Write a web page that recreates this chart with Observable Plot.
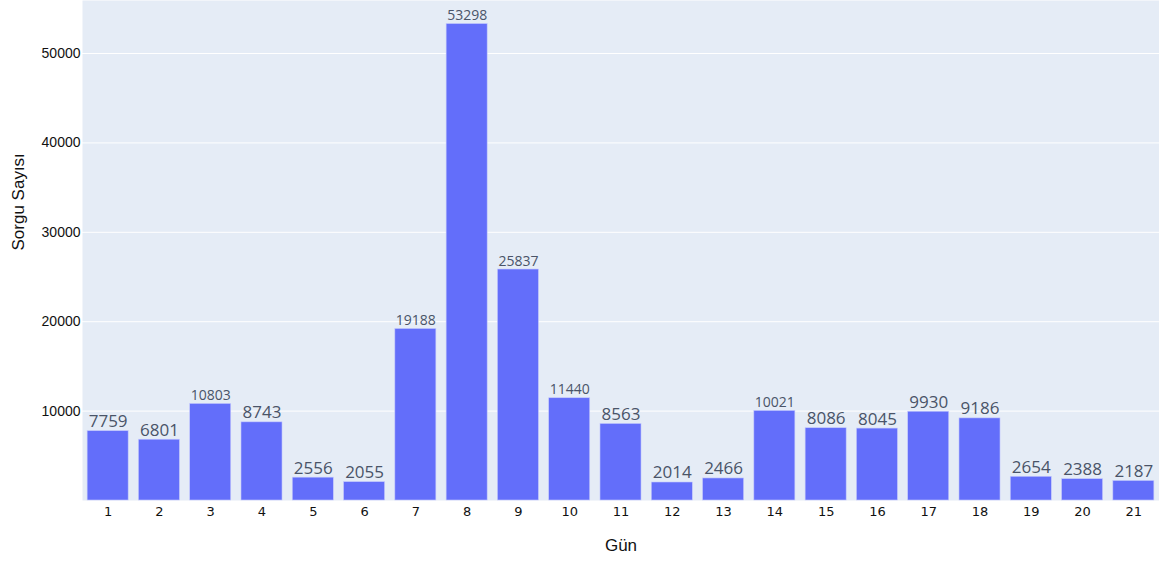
<!DOCTYPE html>
<html>
<head>
<meta charset="utf-8">
<script src="https://cdn.jsdelivr.net/npm/d3@7"></script>
<script src="https://cdn.jsdelivr.net/npm/@observablehq/plot@0.6"></script>
<style>
  body { margin: 0; background: #fff; }
  svg { display: block; }
</style>
</head>
<body>
<div id="chart"></div>
<script>
const days = ["1","2","3","4","5","6","7","8","9","10","11","12","13","14","15","16","17","18","19","20","21"];
const counts = [7759, 6801, 10803, 8743, 2556, 2055, 19188, 53298, 25837, 11440, 8563, 2014, 2466, 10021, 8086, 8045, 9930, 9186, 2654, 2388, 2187];
const yTicks = [10000, 20000, 30000, 40000, 50000];

const data = days.map((d, i) => ({day: d, count: counts[i]}));
const isLong = d => String(d.count).length >= 5;
const sans = "'Liberation Sans', Arial, sans-serif";
const dejavu = "'DejaVu Sans', Verdana, sans-serif";
const open = "'Open Sans', sans-serif";

const chart = Plot.plot({
  width: 1159,
  height: 562,
  marginLeft: 82,
  marginRight: 0,
  marginTop: 0,
  marginBottom: 62,
  style: {fontFamily: sans, fontSize: "13px", color: "#2a3f5f", background: "#fff"},
  x: {domain: days, paddingInner: 0.2, paddingOuter: 0.1, round: false, label: null},
  y: {domain: [0, 55930], label: null},
  marks: [
    Plot.frame({fill: "#E5ECF6", stroke: null}),
    Plot.gridY(yTicks, {stroke: "#fff", strokeOpacity: 1, strokeWidth: 1}),
    Plot.barY(data, {x: "day", y: "count", fill: "#636EFA", stroke: "#c5cafd", strokeWidth: 0.6}),
    Plot.text(data.filter(d => !isLong(d)), {x: "day", y: "count", text: d => String(d.count), lineAnchor: "bottom", dy: -4, fontSize: 17, fontFamily: open, fill: "#4a5468"}),
    Plot.text(data.filter(isLong), {x: "day", y: "count", text: d => String(d.count), lineAnchor: "bottom", dy: -4, fontSize: 14, fontFamily: open, fill: "#4a5468"}),
    Plot.axisY(yTicks, {tickSize: 0, tickPadding: 2, fontSize: 14, fill: "#111", tickFormat: "d", label: null}),
    Plot.axisX({tickSize: 0, tickPadding: 6, fontSize: 13, fontFamily: dejavu, fill: "#111", label: null}),
    Plot.text(["Sorgu Sayısı"], {frameAnchor: "left", dx: -64, rotate: -90, fontSize: 17, fill: "#111"}),
    Plot.text(["Gün"], {frameAnchor: "bottom", dy: 50, fontSize: 17, fill: "#111"})
  ]
});
document.getElementById("chart").appendChild(chart);
</script>
</body>
</html>
